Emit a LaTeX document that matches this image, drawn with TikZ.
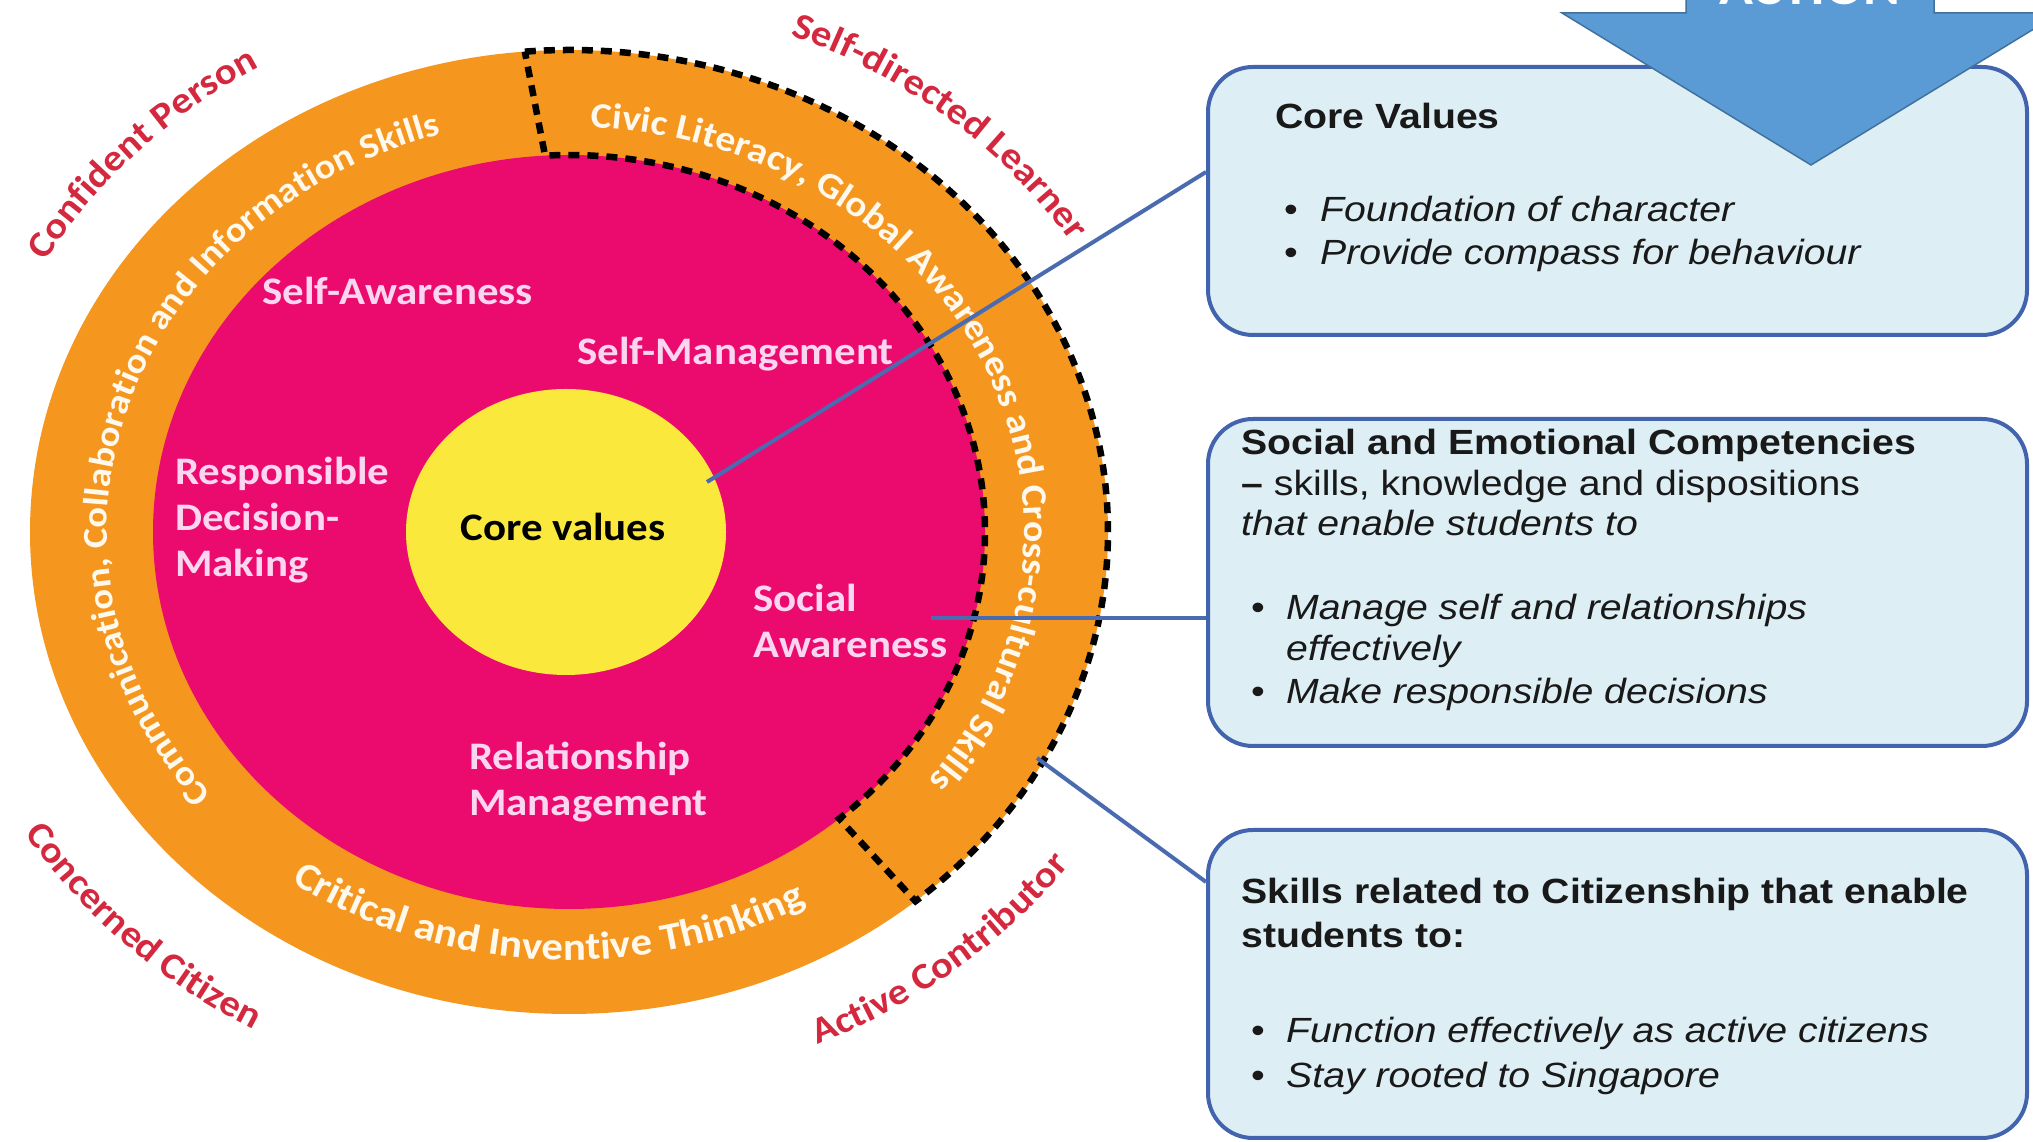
\documentclass[tikz,border=0pt]{standalone}
\usepackage{fontspec}
\setmainfont{Liberation Sans}[FakeStretch=1.12]
\newfontfamily\calfont{Carlito}[FakeStretch=1.1]
\newfontfamily\boxfont{Liberation Sans}[FakeStretch=1.12]
\usetikzlibrary{decorations.text,calc,shapes.geometric}
\definecolor{ringorange}{HTML}{F5961F}
\definecolor{magentapink}{HTML}{EB0A6E}
\definecolor{coreyellow}{HTML}{FAE93C}
\definecolor{labelpink}{HTML}{FBD6F0}
\definecolor{outred}{HTML}{D4283F}
\definecolor{linkblue}{HTML}{4A6BB0}
\definecolor{boxfill}{HTML}{DDEFF5}
\definecolor{boxedge}{HTML}{4263AE}
\definecolor{arrowblue}{HTML}{5B9BD5}
\definecolor{arrowedge}{HTML}{41719C}
\definecolor{ringtext}{HTML}{FFF8EC}
\newcommand{\ringfmt}[1]{|\calfont\bfseries\fontsize{#1}{40}\selectfont\color{ringtext}|}
\newcommand{\redfmt}{|\calfont\bfseries\fontsize{37}{40}\selectfont\color{outred}|}
\begin{document}
\begin{tikzpicture}[x=1pt,y=1pt,
  boxshape/.style={draw=boxedge, line width=4pt, fill=boxfill, rounded corners=45pt, minimum width=819pt, inner sep=0pt},
  link/.style={draw=linkblue, line width=4pt},
  innerlabel/.style={anchor=base west, inner sep=0pt, text=labelpink, font=\calfont\bfseries\fontsize{39}{46}\selectfont},
  boxtext/.style={anchor=base west, inner sep=0pt, text=black!90, font=\boxfont\fontsize{35}{41}\selectfont},
  dashline/.style={draw=black, line width=6.5pt, dash pattern=on 11pt off 8pt},
  ringdisk/.style={ellipse, inner sep=0pt}
]
\fill[white] (0,0) rectangle (2033,1142);
\useasboundingbox (0,0) rectangle (2033,1142);
\coordinate (C) at (569,610);
% circles
\node[ringdisk, fill=ringorange, minimum width=1078pt, minimum height=964pt] (outer) at (C) {};
\node[ringdisk, fill=magentapink, minimum width=832pt, minimum height=754pt] (pink) at (C) {};
\node[ringdisk, fill=coreyellow, minimum width=320pt, minimum height=286pt] (core) at (566,610) {};
% dashed sector
\draw[dashline] ($(C)+(94.7:539pt and 482pt)$) arc[start angle=94.7, end angle=-50, x radius=539pt, y radius=482pt]
  -- ($(C)+(-49.5:416pt and 377pt)$) arc[start angle=-49.5, end angle=93.3, x radius=416pt, y radius=377pt] -- cycle;
% ring texts
\path[decorate, decoration={text along path, text align=center, text={\ringfmt{35} Communication, Collaboration and Information Skills}}]
  ($(C)+(230.5:462pt and 414pt)$) arc[start angle=230.5, end angle=96.5, x radius=462pt, y radius=414pt];
\path[decorate, decoration={text along path, text align=center, text={\ringfmt{36} Civic Literacy, Global Awareness and Cross-cultural Skills}}]
  ($(C)+(99:455pt and 405pt)$) arc[start angle=99, end angle=-49, x radius=455pt, y radius=405pt];
\path[decorate, decoration={text along path, text align=center, text={\ringfmt{39} Critical and Inventive Thinking}}]
  ($(C)+(215.5:482pt and 428pt)$) arc[start angle=215.5, end angle=317.5, x radius=482pt, y radius=428pt];
% outer red labels
\path[decorate, decoration={text along path, text align=center, text={\redfmt Confident Person}}]
  ($(C)+(176.5:605pt and 541pt)$) arc[start angle=176.5, end angle=96.5, x radius=605pt, y radius=541pt];
\path[decorate, decoration={text along path, text align=center, text={\redfmt Self-directed Learner}}]
  ($(C)+(89.5:597pt and 535pt)$) arc[start angle=89.5, end angle=9.5, x radius=597pt, y radius=535pt];
\path[decorate, decoration={text along path, text align=center, text={\redfmt Concerned Citizen}}]
  ($(C)+(185:640pt and 572pt)$) arc[start angle=185, end angle=265, x radius=640pt, y radius=572pt];
\path[decorate, decoration={text along path, text align=center, text={\redfmt Active Contributor}}]
  ($(C)+(269.5:623pt and 559pt)$) arc[start angle=269.5, end angle=349.5, x radius=623pt, y radius=559pt];
% inner labels
\node[innerlabel] (selfaw) at (262,837) {Self-Awareness};
\node[innerlabel] (selfman) at (577,777) {Self-Management};
\node[innerlabel] (respdm) at (175,657) {\begin{tabular}[t]{@{}l@{}}Responsible\\Decision-\\Making\end{tabular}};
\node[innerlabel] (socaw) at (753,530) {\begin{tabular}[t]{@{}l@{}}Social\\Awareness\end{tabular}};
\node[innerlabel] (relman) at (469,372) {\begin{tabular}[t]{@{}l@{}}Relationship\\Management\end{tabular}};
\node[anchor=base, inner sep=0pt, text=black, font=\calfont\bfseries\fontsize{39}{46}\selectfont] (corelabel) at (563,601) {Core values};
% boxes
\node[boxshape, minimum height=268pt] (cvbox) at (1617.5,941) {};
\node[boxshape, minimum height=327pt] (secbox) at (1617.5,559.5) {};
\node[boxshape, minimum height=308pt] (citbox) at (1617.5,158) {};
% box texts
\node[boxtext] (cvtext) at (1275,1013) {\begin{tabular}[t]{@{}l@{}}\textbf{Core Values}\\[52pt]
  \hspace*{9pt}\makebox[36pt][l]{•}\textit{Foundation of character}\\[2pt]
  \hspace*{9pt}\makebox[36pt][l]{•}\textit{Provide compass for behaviour}\end{tabular}};
\node[boxtext] (sectext) at (1241,687) {\begin{tabular}[t]{@{}l@{}}\textbf{Social and Emotional Competencies}\\
  \textbf{–} skills, knowledge and dispositions\\[-1pt]
  \textit{that enable students to}\\[43pt]
  \hspace*{10pt}\makebox[35pt][l]{•}\textit{Manage self and relationships}\\
  \hspace*{45pt}\textit{effectively}\\[2pt]
  \hspace*{10pt}\makebox[35pt][l]{•}\textit{Make responsible decisions}\end{tabular}};
\node[boxtext] (cittext) at (1241,238) {\begin{tabular}[t]{@{}l@{}}\textbf{Skills related to Citizenship that enable}\\[3pt]
  \textbf{students to:}\\[54pt]
  \hspace*{10pt}\makebox[35pt][l]{•}\textit{Function effectively as active citizens}\\[4pt]
  \hspace*{10pt}\makebox[35pt][l]{•}\textit{Stay rooted to Singapore}\end{tabular}};
% connectors
\coordinate (s1) at (707,660);
\coordinate (s2) at (931,524);
\coordinate (s3) at (1037,384);
\draw[link] (s1) -- ([yshift=29pt]cvbox.west);
\draw[link] (s2) -- ([yshift=-35.5pt]secbox.west);
\draw[link] (s3) -- ([yshift=102pt]citbox.west);
% block arrow
\filldraw[fill=arrowblue, draw=arrowedge, line width=1.5pt] (1686,1170) -- (1686,1129) -- (1562,1129) -- (1811,977) -- (2060,1129) -- (1934,1129) -- (1934,1170) -- cycle;
\node[anchor=base, inner sep=0pt, text=white, font=\calfont\bfseries\fontsize{51}{60}\selectfont] (actiontext) at (1810,1137) {ACTION};
\end{tikzpicture}
\end{document}
